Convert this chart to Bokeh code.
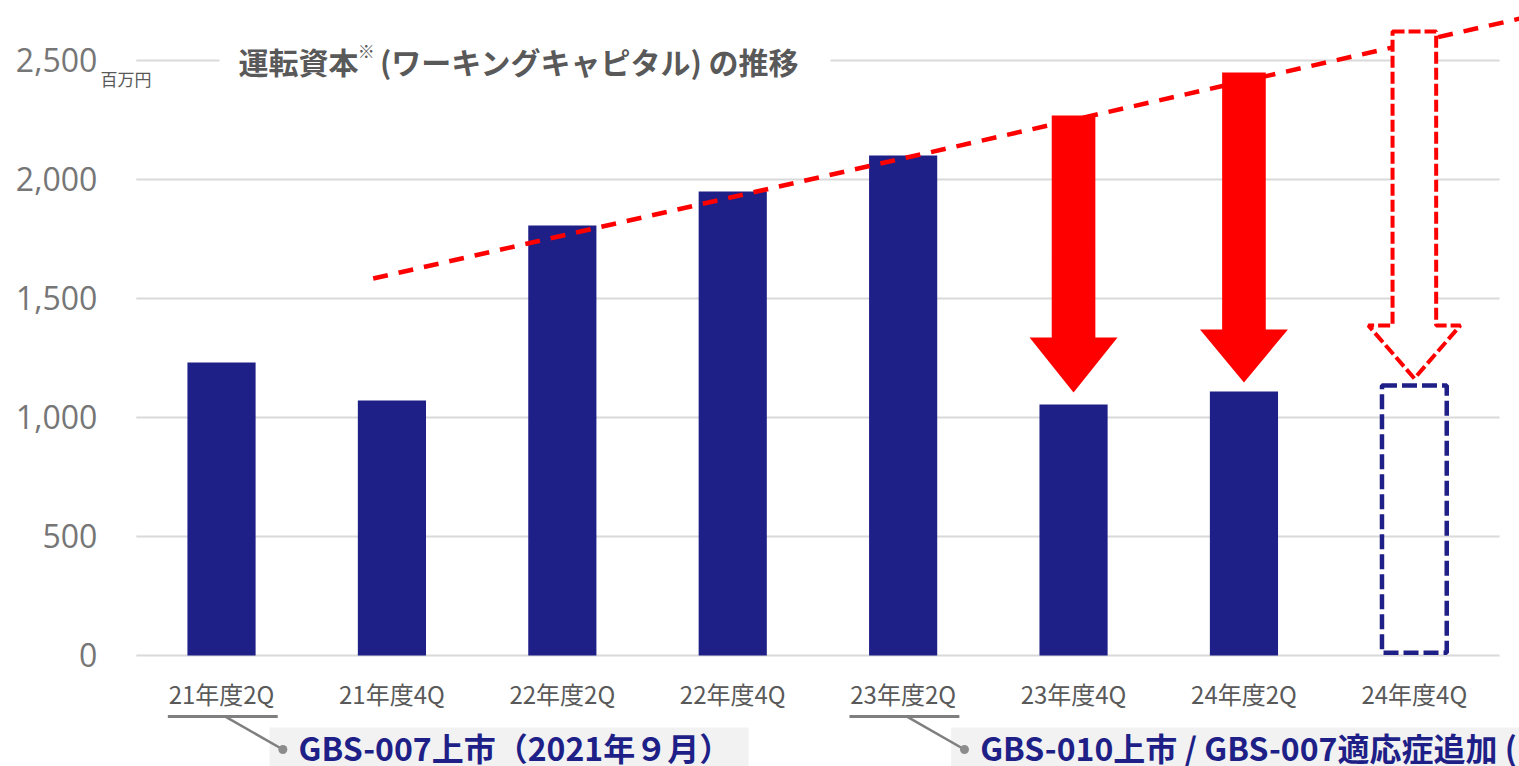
from bokeh.plotting import figure
from bokeh.models import Range1d, FixedTicker, NumeralTickFormatter
from bokeh.core.properties import value
from bokeh.embed import file_html
from bokeh.resources import INLINE

# ---------------- data ----------------
categories = ["21年度2Q", "21年度4Q", "22年度2Q", "22年度4Q",
              "23年度2Q", "23年度4Q", "24年度2Q", "24年度4Q"]
working_capital = [1231, 1071, 1807, 1950, 2101, 1055, 1109]   # 百万円
forecast_top = 1134
forecast_bottom = 12
y_ticks = [0, 500, 1000, 1500, 2000, 2500]

trend_x = [0.89, 7.65]
trend_y = [1584, 2681]

arrow_cat = [5, 6]
arrow_top = [2269, 2450]
arrow_head = [1336, 1370]
arrow_tip = [1105, 1147]
forecast_arrow = dict(cat=7, top=2622, head=1387, tip=1164)

event_cat = [0, 4]
event_text = ["GBS-007上市（2021年９月）", "GBS-010上市 / GBS-007適応症追加 ("]
event_box_right = [3.093, 8.2]

title_main = "運転資本"
title_mark = "※"
title_rest = "(ワーキングキャピタル) の推移"
unit_text = "百万円"

NAVY = "#1f1f88"
RED = "#ff0000"
GRID = "#d9d9d9"
JP = value("Noto Sans CJK JP")

# ---------------- figure ----------------
p = figure(width=1519, height=766,
           x_range=Range1d(-1.297, 7.617), y_range=Range1d(-466.4, 2752.1),
           output_backend="svg", toolbar_location=None,
           min_border=0, min_border_left=0, min_border_right=0,
           min_border_top=0, min_border_bottom=0)
p.outline_line_color = None
p.xgrid.visible = False
p.ygrid.visible = False
p.background_fill_color = "white"

# y axis (at the left edge of the category area)
ya = p.yaxis[0]
ya.fixed_location = -0.5
ya.ticker = FixedTicker(ticks=y_ticks)
ya.formatter = NumeralTickFormatter(format="0,0")
ya.axis_line_color = None
ya.major_tick_line_color = None
ya.minor_tick_line_color = None
ya.major_tick_out = 0
ya.major_tick_in = 0
ya.major_label_standoff = 39
ya.major_label_text_font = "Open Sans"
ya.major_label_text_font_size = "32px"
ya.major_label_text_color = "#767676"

# x axis (category labels under the zero line)
xa = p.xaxis[0]
xa.fixed_location = 0
xa.ticker = FixedTicker(ticks=list(range(len(categories))))
xa.major_label_overrides = {i: c for i, c in enumerate(categories)}
xa.axis_line_color = None
xa.major_tick_line_color = None
xa.minor_tick_line_color = None
xa.major_tick_out = 0
xa.major_tick_in = 0
xa.major_label_standoff = 21
xa.major_label_text_font = "Noto Sans CJK JP"
xa.major_label_text_font_size = "24px"
xa.major_label_text_color = "#595959"

# grid lines
n = len(categories)
p.segment(x0=[-0.5] * len(y_ticks), x1=[n - 0.5] * len(y_ticks),
          y0=y_ticks, y1=y_ticks, line_color=GRID, line_width=2)

# bars
p.vbar(x=list(range(len(working_capital))), top=working_capital, width=0.4,
       fill_color=NAVY, line_color=None)

# trend line
p.line(trend_x, trend_y, line_color=RED, line_width=4.5, line_dash="15 11")

# solid arrows
SW, HW = 0.128, 0.258
xs, ys = [], []
for c, t, h, tip in zip(arrow_cat, arrow_top, arrow_head, arrow_tip):
    xs.append([c - SW, c + SW, c + SW, c + HW, c, c - HW, c - SW])
    ys.append([t, t, h, h, tip, h, h])
p.patches(xs, ys, fill_color=RED, line_color=None)

# hollow dashed arrow
fa = forecast_arrow
c = fa["cat"]
p.patch([c - SW, c + SW, c + SW, c + 0.27, c, c - 0.27, c - SW],
        [fa["top"], fa["top"], fa["head"], fa["head"], fa["tip"], fa["head"], fa["head"]],
        fill_color="white", line_color=RED, line_width=4, line_dash="12 4")

# forecast dashed bar
p.vbar(x=[len(working_capital)], top=[forecast_top], bottom=[forecast_bottom], width=0.38,
       fill_color=None, line_color=NAVY, line_width=4.5, line_dash="15 5")

# title with white background over the top grid line
p.quad(left=[-0.012], right=[3.574], bottom=[2407], top=[2592],
       fill_color="white", line_color=None)
p.text(x=[0.1], y=[2498], text=[title_main], text_font=JP, text_font_size="30px",
       text_font_style="bold", text_color="#595959", text_baseline="middle", text_align="left")
p.text(x=[0.80], y=[2540], text=[title_mark], text_font=JP, text_font_size="17px",
       text_font_style="bold", text_color="#595959", text_baseline="middle", text_align="left")
p.text(x=[0.93], y=[2498], text=[title_rest], text_font=JP, text_font_size="30px",
       text_font_style="bold", text_color="#595959", text_baseline="middle", text_align="left")

# unit
p.text(x=[-0.71], y=[2424], text=[unit_text], text_font=JP, text_font_size="17px",
       text_color="#595959", text_baseline="middle", text_align="left")

# event annotations under the axis
for ci, txt, br in zip(event_cat, event_text, event_box_right):
    p.quad(left=[ci + 0.282], right=[br], top=[-302.5], bottom=[-480],
           fill_color="#f2f2f2", line_color=None)
    p.segment(x0=[ci - 0.315], x1=[ci + 0.33], y0=[-256], y1=[-256],
              line_color="#7f7f7f", line_width=3)
    p.segment(x0=[ci + 0.02], x1=[ci + 0.36], y0=[-256], y1=[-395],
              line_color="#7f7f7f", line_width=2.5)
    p.scatter(x=[ci + 0.36], y=[-395], size=9, fill_color="#8c8c8c", line_color=None)
    p.text(x=[ci + 0.452], y=[-385], text=[txt], text_font=JP, text_font_size="32px",
           text_font_style="bold", text_color=NAVY, text_baseline="middle", text_align="left")

open("out.html", "w").write(file_html(p, INLINE))
